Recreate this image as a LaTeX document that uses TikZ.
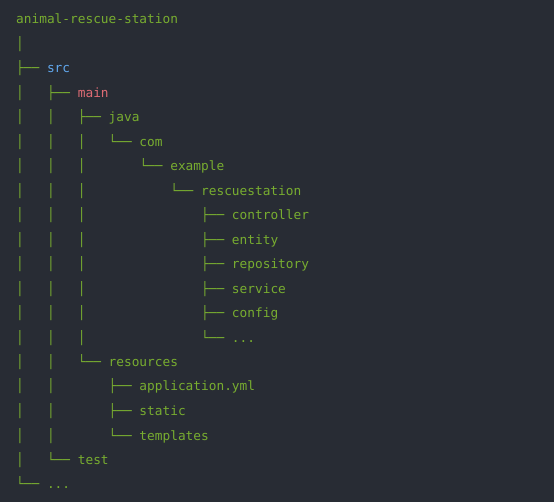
\documentclass[tikz,border=0pt]{standalone}
\usepackage{fontspec}
\setmonofont{DejaVu Sans Mono}
\usepackage{xcolor}
\usetikzlibrary{positioning}

\definecolor{codebg}{HTML}{282C34}
\definecolor{treegreen}{HTML}{78AD30}
\definecolor{srcblue}{HTML}{61A8EE}
\definecolor{mainred}{HTML}{E06C75}

\begin{document}
\begin{tikzpicture}[%directory tree
  x=1pt, y=-1pt,
  treeline/.style={anchor=base west, inner sep=0pt, text=treegreen,
    font=\ttfamily\fontsize{12.8}{14}\selectfont}
]
\fill[codebg] (0,0) rectangle (554,502);
\useasboundingbox (0,0) rectangle (554,502);

%Lines of the tree
\node[treeline] (root)      at (16,24.0)  {animal-rescue-station};
\node[treeline] (bar)       at (16,48.5)  {│};
\node[treeline] (src)       at (16,72.9)  {├──~\textcolor{srcblue}{src}};
\node[treeline] (main)      at (16,97.4)  {│~~~├──~\textcolor{mainred}{main}};
\node[treeline] (java)      at (16,121.9) {│~~~│~~~├──~java};
\node[treeline] (com)       at (16,146.4) {│~~~│~~~│~~~└──~com};
\node[treeline] (example)   at (16,170.8) {│~~~│~~~│~~~~~~~└──~example};
\node[treeline] (rescue)    at (16,195.3) {│~~~│~~~│~~~~~~~~~~~└──~rescuestation};
\node[treeline] (controller) at (16,219.8) {│~~~│~~~│~~~~~~~~~~~~~~~├──~controller};
\node[treeline] (entity)    at (16,244.2) {│~~~│~~~│~~~~~~~~~~~~~~~├──~entity};
\node[treeline] (repo)      at (16,268.7) {│~~~│~~~│~~~~~~~~~~~~~~~├──~repository};
\node[treeline] (service)   at (16,293.2) {│~~~│~~~│~~~~~~~~~~~~~~~├──~service};
\node[treeline] (config)    at (16,317.6) {│~~~│~~~│~~~~~~~~~~~~~~~├──~config};
\node[treeline] (moreapp)   at (16,342.1) {│~~~│~~~│~~~~~~~~~~~~~~~└──~...};
\node[treeline] (resources) at (16,366.6) {│~~~│~~~└──~resources};
\node[treeline] (appyml)    at (16,391.0) {│~~~│~~~~~~~├──~application.yml};
\node[treeline] (static)    at (16,415.5) {│~~~│~~~~~~~├──~static};
\node[treeline] (templates) at (16,440.0) {│~~~│~~~~~~~└──~templates};
\node[treeline] (test)      at (16,464.4) {│~~~└──~test};
\node[treeline] (more)      at (16,488.9) {└──~...};
\end{tikzpicture}
\end{document}
